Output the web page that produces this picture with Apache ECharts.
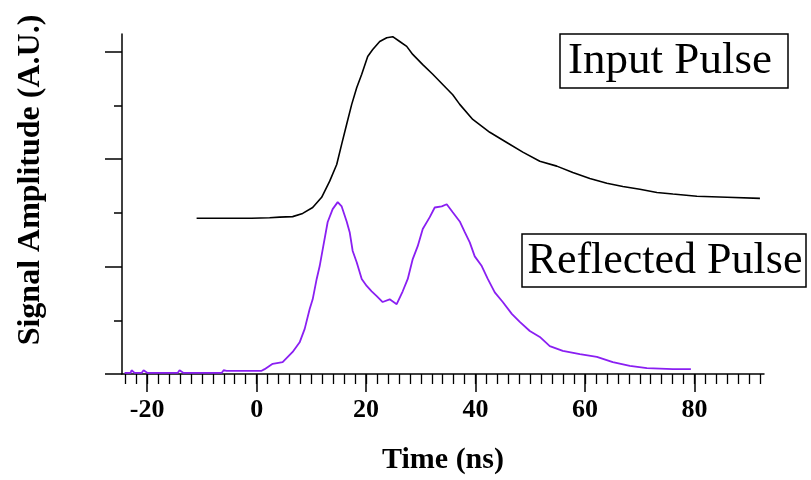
<!DOCTYPE html>
<html>
<head>
<meta charset="utf-8">
<script src="https://cdn.jsdelivr.net/npm/echarts@6/dist/echarts.min.js"></script>
<style>
  html, body { margin: 0; padding: 0; background: #fff; }
  #chart { width: 811px; height: 480px; }
</style>
</head>
<body>
<div id="chart"></div>
<script>
// values (time in ns, amplitude in A.U.)
var inputTime = [-10.97, -0.91, 2.38, 4.20, 6.58, 8.41, 10.24, 11.88, 13.35, 14.63, 15.54, 16.45, 17.37, 18.28, 19.20, 20.29, 21.21, 22.49, 23.77, 24.86, 26.14, 27.42, 28.52, 30.35, 32.18, 34.00, 35.83, 37.11, 39.49, 42.60, 45.70, 48.63, 51.74, 54.84, 57.77, 60.88, 63.99, 66.91, 70.02, 73.13, 76.05, 80.44, 85.92, 91.96];
var inputAmp = [2.90, 2.90, 2.91, 2.92, 2.93, 2.99, 3.10, 3.29, 3.59, 3.90, 4.28, 4.65, 5.02, 5.33, 5.58, 5.91, 6.04, 6.19, 6.26, 6.28, 6.19, 6.10, 5.95, 5.76, 5.58, 5.39, 5.20, 5.02, 4.74, 4.50, 4.31, 4.13, 3.96, 3.87, 3.75, 3.64, 3.55, 3.49, 3.44, 3.38, 3.35, 3.31, 3.29, 3.27];

var reflTime = [-24.13, -23.03, -22.85, -22.30, -21.02, -20.66, -19.93, -14.44, -14.08, -13.35, -6.40, -6.03, -5.48, 0.91, 1.46, 2.93, 4.75, 6.58, 7.86, 8.78, 9.69, 10.24, 10.97, 11.52, 12.07, 12.98, 13.89, 14.81, 15.54, 16.45, 17.00, 17.55, 18.28, 19.20, 20.11, 21.02, 21.94, 23.03, 24.31, 25.59, 26.69, 27.61, 28.52, 29.43, 30.35, 31.63, 32.54, 33.82, 34.73, 35.83, 37.11, 38.03, 38.94, 39.85, 41.13, 42.23, 43.51, 44.97, 46.62, 48.08, 49.91, 51.74, 53.56, 55.94, 59.05, 62.16, 65.08, 68.19, 71.30, 76.05, 79.34];
var reflAmp = [0.02, 0.02, 0.07, 0.02, 0.02, 0.07, 0.02, 0.02, 0.07, 0.02, 0.02, 0.07, 0.06, 0.06, 0.09, 0.19, 0.22, 0.41, 0.59, 0.84, 1.21, 1.39, 1.77, 2.01, 2.32, 2.83, 3.07, 3.20, 3.12, 2.84, 2.64, 2.29, 2.08, 1.77, 1.64, 1.54, 1.45, 1.34, 1.39, 1.30, 1.54, 1.77, 2.14, 2.38, 2.70, 2.92, 3.10, 3.12, 3.16, 3.01, 2.84, 2.64, 2.45, 2.19, 2.01, 1.77, 1.52, 1.34, 1.12, 0.97, 0.80, 0.69, 0.52, 0.43, 0.37, 0.32, 0.22, 0.15, 0.11, 0.09, 0.09];

var xMajor = [-20, 0, 20, 40, 60, 80];
var xMinor = [];
for (var t = -24; t <= 92; t += 2) xMinor.push(t);
var yMajor = [0, 2, 4, 6];
var yMinor = [1, 3, 5];

function pairs(xs, ys) {
    return xs.map(function (x, i) { return [x, ys[i]]; });
}

var serif = 'Liberation Serif';
var chart = echarts.init(document.getElementById('chart'));

chart.setOption({
    animation: false,
    backgroundColor: '#fff',
    grid: {left: 122, right: 47, top: 34, bottom: 105},
    xAxis: [
        {
            type: 'value', min: -24.6, max: 92.7,
            axisLine: {show: true, onZero: false, lineStyle: {color: '#000', width: 1.5}},
            axisTick: {show: true, customValues: xMajor, length: 18, lineStyle: {color: '#000', width: 1.5}},
            axisLabel: {customValues: xMajor, color: '#000', fontFamily: serif, fontWeight: 'bold', fontSize: 26, margin: 23},
            splitLine: {show: false},
            name: 'Time (ns)', nameLocation: 'middle', nameGap: 71,
            nameTextStyle: {color: '#000', fontFamily: serif, fontWeight: 'bold', fontSize: 30}
        },
        {
            type: 'value', min: -24.6, max: 92.7, position: 'bottom',
            axisLine: {show: false, onZero: false},
            axisTick: {show: true, customValues: xMinor, length: 10, lineStyle: {color: '#000', width: 1.3}},
            axisLabel: {show: false},
            splitLine: {show: false}
        }
    ],
    yAxis: [
        {
            type: 'value', min: 0, max: 6.33,
            axisLine: {show: true, onZero: false, lineStyle: {color: '#000', width: 1.5}},
            axisTick: {show: true, customValues: yMajor, length: 17, lineStyle: {color: '#000', width: 1.5}},
            axisLabel: {show: false},
            splitLine: {show: false}
        },
        {
            type: 'value', min: 0, max: 6.33, position: 'left',
            axisLine: {show: false, onZero: false},
            axisTick: {show: true, customValues: yMinor, length: 8, lineStyle: {color: '#000', width: 1.5}},
            axisLabel: {show: false},
            splitLine: {show: false}
        }
    ],
    graphic: [
        {
            type: 'text', x: 31, y: 180, rotation: Math.PI / 2,
            style: {text: 'Signal Amplitude (A.U.)', fill: '#000', font: 'bold 32px "Liberation Serif"', align: 'center', verticalAlign: 'middle'}
        },
        {
            type: 'rect', shape: {x: 560, y: 34, width: 228, height: 54},
            style: {fill: '#fff', stroke: '#000', lineWidth: 1.5}
        },
        {
            type: 'text', x: 670, y: 61,
            style: {text: 'Input Pulse', fill: '#000', font: '45px "Liberation Serif"', align: 'center', verticalAlign: 'middle'}
        },
        {
            type: 'rect', shape: {x: 522, y: 234, width: 284, height: 53},
            style: {fill: '#fff', stroke: '#000', lineWidth: 1.5}
        },
        {
            type: 'text', x: 665, y: 261,
            style: {text: 'Reflected Pulse', fill: '#000', font: '44px "Liberation Serif"', align: 'center', verticalAlign: 'middle'}
        }
    ],
    series: [
        {
            name: 'Input Pulse', type: 'line', xAxisIndex: 0, yAxisIndex: 0,
            data: pairs(inputTime, inputAmp),
            showSymbol: false,
            lineStyle: {color: '#000', width: 1.6}
        },
        {
            name: 'Reflected Pulse', type: 'line', xAxisIndex: 0, yAxisIndex: 0,
            data: pairs(reflTime, reflAmp),
            showSymbol: false,
            lineStyle: {color: '#8a1ff2', width: 1.8}
        }
    ]
});
</script>
</body>
</html>
